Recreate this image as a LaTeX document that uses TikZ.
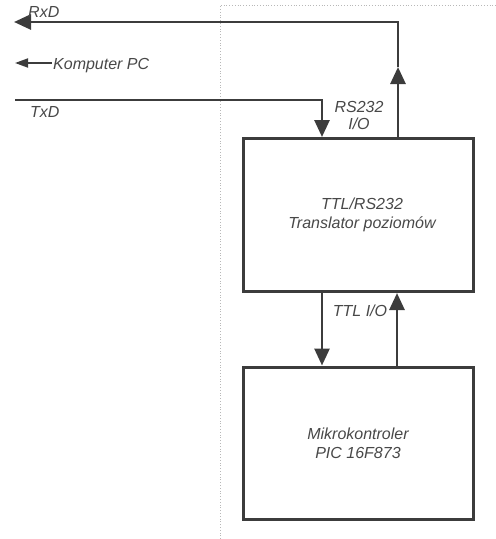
\documentclass[tikz,border=0pt]{standalone}
\usepackage{fontspec}
\setmainfont{Liberation Sans}
\usetikzlibrary{arrows.meta}
\definecolor{ink}{HTML}{3C3C3C}
\definecolor{txt}{HTML}{484848}
\definecolor{dots}{HTML}{B8B8B8}
\tikzset{
  blockbox/.style={draw=ink,line width=3pt,minimum width=230pt,minimum height=153pt,inner sep=0pt,
    align=center,text=txt,font=\fontsize{16}{19}\selectfont\itshape},
  wire/.style={draw=ink,line width=2.8pt},
  tip/.style={-{Triangle[length=17pt,width=15pt]}},
  lbl/.style={text=txt,font=\fontsize{16}{17}\selectfont\itshape,inner sep=0pt,align=center},
  frame/.style={draw=dots,line width=0.8pt,dotted}
}
\begin{document}
\begin{tikzpicture}[x=1pt,y=-1pt]
\useasboundingbox (0,0) rectangle (496,539);
% dotted frame
\coordinate (f1) at (220,539);
\coordinate (f2) at (220,5);
\coordinate (f3) at (496,5);
\draw[frame] (f1) -- (f2) -- (f3);
% blocks
\node[blockbox] (tr) at (358,215) {\hspace*{8pt}TTL/RS232\\\hspace*{8pt}Translator poziomów};
\node[blockbox,minimum height=152pt] (mc) at (358,443) {Mikrokontroler\\PIC 16F873};
% RxD path
\coordinate (rxa) at (398,67);
\coordinate (rxb) at (398,22);
\coordinate (rxe) at (14,22);
\draw[wire,tip] (tr.north -| rxa) -- (rxa);
\draw[wire,tip] (rxa) -- (rxb) -- (rxe);
% TxD path
\coordinate (txs) at (15,100);
\coordinate (txb) at (322,100);
\draw[wire,tip] (txs) -- (txb) -- (tr.north -| txb);
% Komputer PC
\node[lbl,anchor=base west] (pc) at (53,69) {Komputer PC};
\coordinate (pce) at (15,63);
\draw[draw=ink,line width=1.8pt,-{Triangle[length=13pt,width=9pt]}] (pc.west |- pce) ++(-1,0) -- (pce);
% labels
\node[lbl,anchor=base west] (rxl) at (28,17) {RxD};
\node[lbl,anchor=base west] (txl) at (30,117) {TxD};
\node[lbl] (rsl) at (359,115) {RS232\\I/O};
\node[lbl] (ttll) at (360,311) {TTL I/O};
% between blocks
\coordinate (dn) at (322,0);
\coordinate (up) at (397,0);
\draw[wire,tip] (tr.south -| dn) -- (mc.north -| dn);
\draw[wire,tip] (mc.north -| up) -- (tr.south -| up);
\end{tikzpicture}
\end{document}
